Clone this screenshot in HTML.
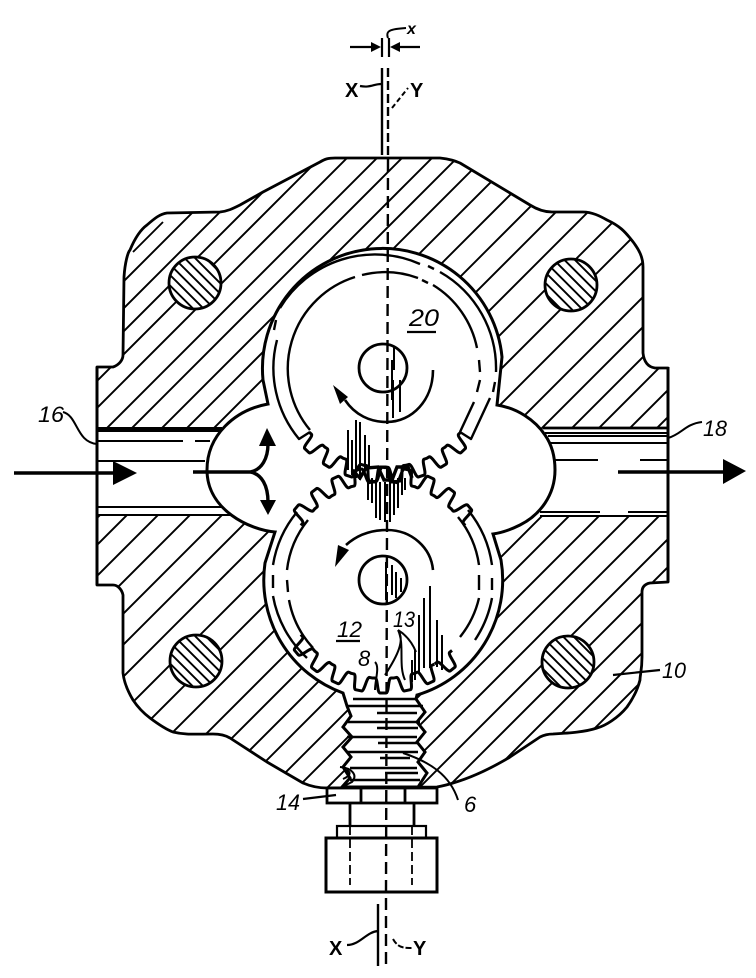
<!DOCTYPE html>
<html>
<head>
<meta charset="utf-8">
<style>
html,body{margin:0;padding:0;background:#fff;width:756px;height:978px;overflow:hidden}
svg{display:block;overflow:hidden}
text{font-family:"Liberation Sans",sans-serif;font-style:italic;font-size:22px;fill:#000}
text.u{font-style:normal;font-weight:bold;font-size:20px}
</style>
</head>
<body>
<svg xmlns="http://www.w3.org/2000/svg" width="756" height="978" viewBox="0 0 756 978">
<defs>
<pattern id="b" width="10.5" height="10.5" patternUnits="userSpaceOnUse">
<path d="M0,0L10.5,10.5M-2,8.5L2,12.5M8.5,-2L12.5,2" stroke="#000" stroke-width="1.9" fill="none"/>
</pattern>
<path id="t" d="M-11,98L-8,98C-5,98 -6,113 -3,113L3,113C6,113 5,98 8,98L11,98" fill="none" stroke="#000" stroke-width="3" stroke-linejoin="round"/>
<clipPath id="hc">
<path d="M97,367L113,367C119,365 123,360 123,355L124,277C125,262 128,252 130,250C135,238 140,230 147,225C155,218 160,214 167,213L220,212C228,211 232,209 240,205L263,192L320,162C325,159 328,158 335,158L440,158C450,159 455,161 460,163L510,193L530,205C538,210 545,212 552,212L583,212C592,212 600,216 607,220C620,226 625,232 630,238C640,250 643,258 643,267L643,353C644,362 648,367 655,368L668,368L668,582L650,583C645,584 642,587 642,592L642,657C642,670 640,675 640,680C637,692 632,700 627,707C618,718 605,726 597,728C585,732 570,733 553,734C548,734 544,735 540,737L510,757C490,769 470,778 453,783C447,785 442,786 437,787L327,788C318,788 310,786 303,783L267,762L230,738C225,735 220,734 213,734C195,734 185,735 173,732C165,729 158,724 150,718C142,712 137,706 133,700C127,690 124,682 123,673L123,595C122,590 118,585 113,585L97,585Z"/>
</clipPath>
</defs>
<rect width="756" height="978" fill="#fff"/>

<!-- housing hatching -->
<g clip-path="url(#hc)" stroke="#000" stroke-width="1.9" fill="none">
<path d="M0,405L405,0M0,432L432,0M0,455L455,0M0,478L478,0M0,505L505,0M0,535L535,0M0,560L560,0M0,590L590,0M0,615L615,0M0,642L642,0M0,673L673,0M0,705L705,0M0,737L737,0M0,768L750,18M0,800L750,50M0,835L750,85M0,870L750,120M0,905L750,155M0,940L750,190M0,970L750,220M30,970L750,250M57,970L750,277M88,970L750,308M115,970L750,335M145,970L750,365M175,970L750,395M205,970L750,425M237,970L750,457M265,970L750,485M295,970L750,515M325,970L750,545M353,970L750,573"/>
<path d="M133,252L163,222"/>
</g>
<path d="M97,367L113,367C119,365 123,360 123,355L124,277C125,262 128,252 130,250C135,238 140,230 147,225C155,218 160,214 167,213L220,212C228,211 232,209 240,205L263,192L320,162C325,159 328,158 335,158L440,158C450,159 455,161 460,163L510,193L530,205C538,210 545,212 552,212L583,212C592,212 600,216 607,220C620,226 625,232 630,238C640,250 643,258 643,267L643,353C644,362 648,367 655,368L668,368L668,582L650,583C645,584 642,587 642,592L642,657C642,670 640,675 640,680C637,692 632,700 627,707C618,718 605,726 597,728C585,732 570,733 553,734C548,734 544,735 540,737L510,757C490,769 470,778 453,783C447,785 442,786 437,787L327,788C318,788 310,786 303,783L267,762L230,738C225,735 220,734 213,734C195,734 185,735 173,732C165,729 158,724 150,718C142,712 137,706 133,700C127,690 124,682 123,673L123,595C122,590 118,585 113,585L97,585Z" fill="none" stroke="#000" stroke-width="2.8" stroke-linejoin="round"/>

<!-- ports -->
<rect x="98" y="431" width="130" height="84" fill="#fff"/>
<rect x="535" y="429" width="132" height="86" fill="#fff"/>
<path d="M97,429.5H222" stroke="#000" stroke-width="5" fill="none"/>
<path d="M97,441H183M195,441H210M97,461H205M97,507H225M97,515H230" stroke="#000" stroke-width="2" fill="none"/>
<path d="M543,428H668" stroke="#000" stroke-width="2.8" fill="none"/>
<path d="M545,433H668M548,436H668M550,443H668M555,460H598M640,460H668M540,512H600M628,512H668M540,516H668" stroke="#000" stroke-width="2" fill="none"/>
<path d="M97,367V585M668,367V582" stroke="#000" stroke-width="3" fill="none"/>

<!-- bore outline -->
<path d="M268,404L263,380A120,120 0 1 1 502,357L497,405C517,408 535,420 545,435C552,445 555,458 555,470C555,495 540,515 520,525C510,530 500,533 493,534L501,560A120,120 0 0 1 417,695L416,699L425,712L417,722L425,732L417,742L425,752L418,762L427,773L418,787L342,787L350,778L343,767L351,757L343,747L352,737L343,727L351,716L347,706L343,693A120,120 0 0 1 265,563L275,532C250,530 207,510 207,470C207,435 235,410 268,404Z" fill="#fff" stroke="#000" stroke-width="3" stroke-linejoin="miter"/>

<!-- upper gear -->
<g transform="translate(385,369)">
<use href="#t" transform="rotate(-43.75)"/><use href="#t" transform="rotate(-31.25)"/><use href="#t" transform="rotate(-18.75)"/><use href="#t" transform="rotate(-6.25)"/>
<use href="#t" transform="rotate(6.25)"/><use href="#t" transform="rotate(18.75)"/><use href="#t" transform="rotate(31.25)"/><use href="#t" transform="rotate(43.75)"/>
</g>
<path d="M310,432L299,439A111,111 0 0 1 277,340M274,330L276,320M280,308A111,111 0 0 1 420,264M428,266L434,269M440,272A111,111 0 0 1 496,372M495,382L493,392M490,398L471,439L460,432" fill="none" stroke="#000" stroke-width="2.4" stroke-linejoin="round"/>
<path d="M310,430A96,96 0 0 1 355,277M362,275A96,96 0 0 1 418,278M422,280L428,283M433,285A96,96 0 0 1 477,348M479,360L480,372M480,380L477,392M474,402L460,432" fill="none" stroke="#000" stroke-width="2.4"/>
<circle cx="383" cy="368" r="24" fill="#fff" stroke="#000" stroke-width="2.8"/>

<!-- lower gear -->
<g transform="translate(383,580)">
<use href="#t" transform="rotate(180)"/><use href="#t" transform="rotate(167.5)"/><use href="#t" transform="rotate(155)"/><use href="#t" transform="rotate(142.5)"/><use href="#t" transform="rotate(130)"/>
<use href="#t" transform="rotate(192.5)"/><use href="#t" transform="rotate(205)"/><use href="#t" transform="rotate(217.5)"/><use href="#t" transform="rotate(230)"/>
<use href="#t" transform="rotate(-38)"/><use href="#t" transform="rotate(-25)"/><use href="#t" transform="rotate(-12.5)"/><use href="#t" transform="rotate(0)"/><use href="#t" transform="rotate(12.5)"/><use href="#t" transform="rotate(25)"/><use href="#t" transform="rotate(37.5)"/><use href="#t" transform="rotate(50)"/>
</g>
<path d="M297,512A111,111 0 0 0 273,565M273,575V588M273,596A111,111 0 0 0 307,658" fill="none" stroke="#000" stroke-width="2.4"/>
<path d="M468,510A111,111 0 0 1 492,565M492,578V590M492,598A111,111 0 0 1 475,640" fill="none" stroke="#000" stroke-width="2.4"/>
<path d="M308,520A97,97 0 0 0 287,570M287,580L288,592M289,600A97,97 0 0 0 313,648" fill="none" stroke="#000" stroke-width="2.4"/>
<path d="M458,517A97,97 0 0 1 479,565M479,575V590M479,598A97,97 0 0 1 460,637" fill="none" stroke="#000" stroke-width="2.4"/>
<circle cx="383" cy="580" r="24" fill="#fff" stroke="#000" stroke-width="2.8"/>

<!-- hatching streaks -->
<path d="M348,430V470M352,440V475M356,420V478M360,422V480M365,435V468M369,445V468M368,480V500M372,478V503M376,482V518M380,482V520M385,482V522M390,482V522M394,482V515M398,478V508M402,478V495M405,478V490M394,347V370M392,360V400M393,380V418M400,380V412" stroke="#000" stroke-width="2" fill="none"/>
<path d="M352,470L360,478L366,468L378,467L384,480H392L397,467L408,467L412,478" stroke="#000" stroke-width="3.4" fill="none"/>
<path d="M386,562V600M392,565V595M396,572V598M401,578V592M430,586V668M424,598V668M419,615V672M437,620V667M442,635V670M412,660V682M415,650V680" stroke="#000" stroke-width="2" fill="none"/>

<!-- bolts -->
<circle cx="195" cy="283" r="26" fill="#fff"/><circle cx="195" cy="283" r="26" fill="url(#b)" stroke="#000" stroke-width="2.8"/>
<circle cx="571" cy="285" r="26" fill="#fff"/><circle cx="571" cy="285" r="26" fill="url(#b)" stroke="#000" stroke-width="2.8"/>
<circle cx="196" cy="661" r="26" fill="#fff"/><circle cx="196" cy="661" r="26" fill="url(#b)" stroke="#000" stroke-width="2.8"/>
<circle cx="568" cy="662" r="26" fill="#fff"/><circle cx="568" cy="662" r="26" fill="url(#b)" stroke="#000" stroke-width="2.8"/>

<!-- worm threads -->
<path d="M353,699H417M347,706H423M377,713H417M348,722H420M377,728H418M347,737H417M378,743H418M347,752H418M380,758H410M350,768H417M385,773H418M350,780H420" stroke="#000" stroke-width="2.4" fill="none"/>
<path d="M403,753C430,762 450,775 458,800" stroke="#000" stroke-width="2" fill="none"/>
<path d="M340,767C352,768 358,775 352,782L342,787" stroke="#000" stroke-width="2" fill="none"/>
<path d="M343,779C350,776 352,772 346,770" stroke="#000" stroke-width="2" fill="none"/>

<!-- plate, stem, knob -->
<rect x="327" y="788" width="110" height="15" fill="#fff" stroke="#000" stroke-width="2.8"/>
<path d="M361,788V803M405,788V803" stroke="#000" stroke-width="2.8"/>
<path d="M350,803V826M414,803V826" stroke="#000" stroke-width="2.8"/>
<rect x="337" y="826" width="89" height="12" fill="#fff" stroke="#000" stroke-width="2.2"/>
<rect x="326" y="838" width="111" height="54" fill="#fff" stroke="#000" stroke-width="3"/>
<path d="M350,826V885M412,826V885" stroke="#000" stroke-width="1.8" stroke-dasharray="9,4" fill="none"/>

<!-- centre lines -->
<path d="M388,68V160" stroke="#000" stroke-width="2.4" stroke-dasharray="9,4" fill="none"/>
<path d="M388,160L386,892V966" stroke="#000" stroke-width="2.4" stroke-dasharray="12,6" fill="none"/>
<path d="M382,68V155M378,904V966" stroke="#000" stroke-width="2.4" fill="none"/>

<!-- dimension x -->
<path d="M350,47H376M398,47H420" stroke="#000" stroke-width="2.2" fill="none"/>
<path d="M381,47L371,42V52Z" fill="#000"/>
<path d="M390,47L400,42V52Z" fill="#000"/>
<path d="M382,38V57M389,38V57" stroke="#000" stroke-width="2.2" fill="none"/>
<path d="M388,38C385,30 392,29 406,28" stroke="#000" stroke-width="2" fill="none"/>

<!-- flow arrows -->
<path d="M14,473H118" stroke="#000" stroke-width="3.4" fill="none"/>
<path d="M113,461L137,473L113,485Z" fill="#000"/>
<path d="M193,472H250C262,470 268,458 268,444M250,472C262,474 268,486 268,502" stroke="#000" stroke-width="3.4" fill="none"/>
<path d="M267,428L276,446H259Z" fill="#000"/>
<path d="M268,515L276,500H260Z" fill="#000"/>
<path d="M618,472H726" stroke="#000" stroke-width="3.4" fill="none"/>
<path d="M723,459L746,471L723,484Z" fill="#000"/>

<!-- rotation arrows -->
<path d="M433,370C433,400 412,422 387,422C370,422 355,415 345,400" stroke="#000" stroke-width="2.6" fill="none"/>
<path d="M333,385L348,397L340,404Z" fill="#000"/>
<path d="M433,570C431,548 412,530 387,530C370,530 357,535 346,545" stroke="#000" stroke-width="2.6" fill="none"/>
<path d="M335,567L338,545L349,550Z" fill="#000"/>

<!-- leaders -->
<path d="M63,412C78,416 76,442 97,444" stroke="#000" stroke-width="2" fill="none"/>
<path d="M668,438C682,434 685,424 702,422" stroke="#000" stroke-width="2" fill="none"/>
<path d="M398,630C405,640 398,655 385,675M398,630C405,645 398,665 405,680M398,630C406,635 412,642 416,652" stroke="#000" stroke-width="2" fill="none"/>
<path d="M375,662C380,667 375,680 375,690" stroke="#000" stroke-width="2" fill="none"/>
<path d="M303,799L336,795" stroke="#000" stroke-width="2.2" fill="none"/>
<path d="M613,675L660,670" stroke="#000" stroke-width="2.2" fill="none"/>
<path d="M360,86C370,88 374,84 381,84" stroke="#000" stroke-width="2.2" fill="none"/>
<path d="M392,108L408,88" stroke="#000" stroke-width="2" stroke-dasharray="5,3" fill="none"/>
<path d="M347,945C360,945 366,932 378,931" stroke="#000" stroke-width="2.2" fill="none"/>
<path d="M393,939C398,948 404,948 412,948" stroke="#000" stroke-width="2" stroke-dasharray="6,2" fill="none"/>
<path d="M407,332H436M336,641H360" stroke="#000" stroke-width="2.2" fill="none"/>

<!-- labels -->
<text x="38" y="422" textLength="26" lengthAdjust="spacingAndGlyphs">16</text>
<text x="703" y="436" textLength="24" lengthAdjust="spacingAndGlyphs">18</text>
<text x="409" y="326" textLength="30" lengthAdjust="spacingAndGlyphs" style="font-size:24px">20</text>
<text x="337" y="637" textLength="25" lengthAdjust="spacingAndGlyphs">12</text>
<text x="393" y="627" textLength="22" lengthAdjust="spacingAndGlyphs">13</text>
<text x="358" y="666">8</text>
<text x="276" y="810" textLength="24" lengthAdjust="spacingAndGlyphs">14</text>
<text x="464" y="812">6</text>
<text x="662" y="678" textLength="24" lengthAdjust="spacingAndGlyphs">10</text>
<text class="u" x="345" y="97">X</text>
<text class="u" x="410" y="97">Y</text>
<text class="u" x="329" y="955">X</text>
<text class="u" x="413" y="955">Y</text>
<text x="407" y="34" style="font-size:16px;font-weight:bold">x</text>
</svg>
</body>
</html>
